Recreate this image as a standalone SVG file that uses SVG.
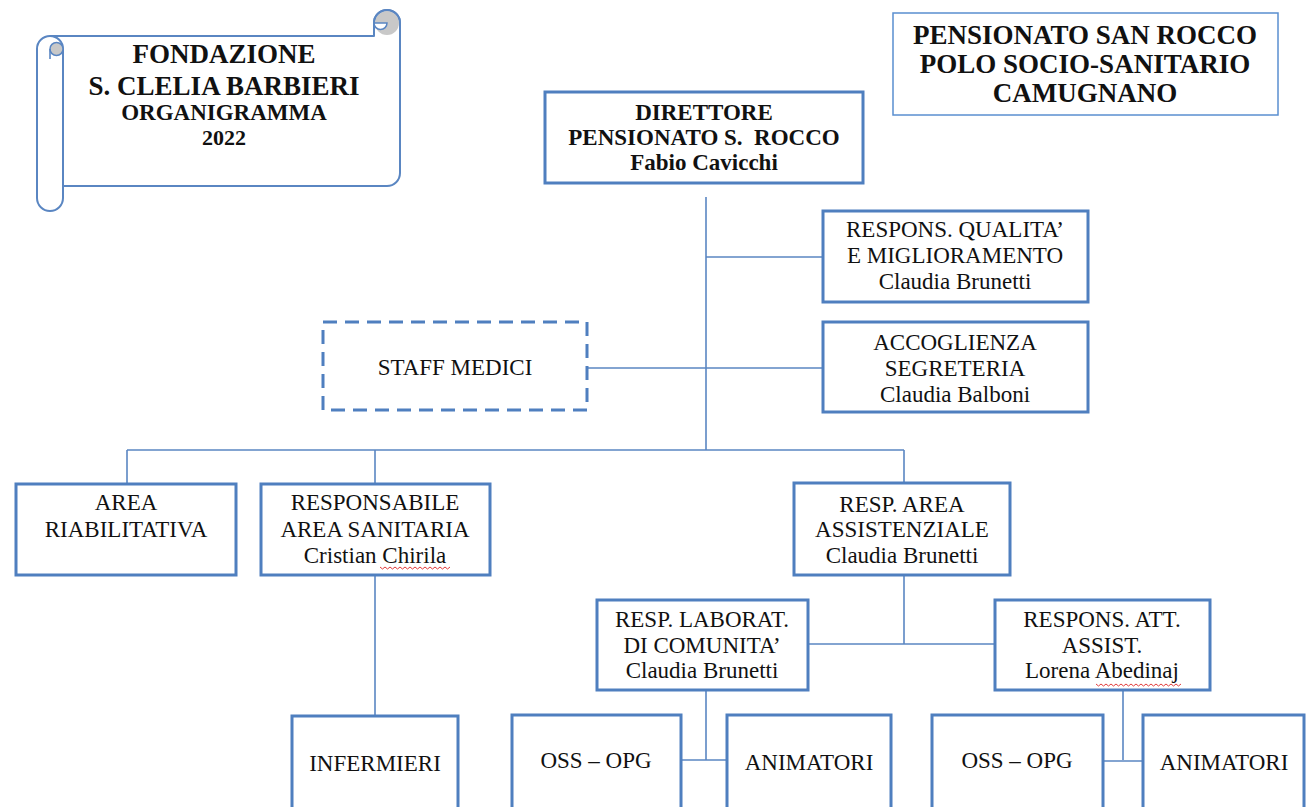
<svg xmlns="http://www.w3.org/2000/svg" width="1306" height="807" viewBox="0 0 1306 807">
<style>
.box{fill:#fff;stroke:#4f7fbf;stroke-width:3}
.dash{fill:#fff;stroke:#4f7fbf;stroke-width:3;stroke-dasharray:14 8}
.scroll{fill:#fff;stroke:#5a86c2;stroke-width:2;stroke-linejoin:round}
.sline{fill:none;stroke:#5a86c2;stroke-width:2;stroke-linejoin:round}
.ln{fill:none;stroke:#5a86c2;stroke-width:1.6}
.sq{fill:none;stroke:#e23b3b;stroke-width:1}
text{font-family:"Liberation Serif","Times New Roman",serif;fill:#111;text-anchor:middle}
.r{font-size:23px}
.b{font-size:23px;font-weight:bold}
.bt{font-size:27px;font-weight:bold}
</style>
<rect width="1306" height="807" fill="#fff"/>
<g id="connectors">
<line class="ln" x1="706" y1="197" x2="706" y2="450"/>
<line class="ln" x1="706" y1="257" x2="823" y2="257"/>
<line class="ln" x1="587" y1="368" x2="823" y2="368"/>
<line class="ln" x1="127" y1="450" x2="904" y2="450"/>
<line class="ln" x1="127" y1="450" x2="127" y2="484"/>
<line class="ln" x1="375" y1="450" x2="375" y2="484"/>
<line class="ln" x1="904" y1="450" x2="904" y2="483"/>
<line class="ln" x1="375" y1="575" x2="375" y2="716"/>
<line class="ln" x1="904" y1="575" x2="904" y2="644"/>
<line class="ln" x1="808" y1="644" x2="995" y2="644"/>
<line class="ln" x1="706" y1="690" x2="706" y2="760"/>
<line class="ln" x1="681" y1="760" x2="727" y2="760"/>
<line class="ln" x1="1123" y1="690" x2="1123" y2="760"/>
<line class="ln" x1="1103" y1="761" x2="1143" y2="761"/>
</g>
<g id="scroll-fondazione">
<path class="scroll" d="M50,36 L374,36 L374,23 A13,13 0 0 1 400,23 L400,173 A13,13 0 0 1 387,186 L63,186 L63,198 A13,13 0 0 1 37,198 L37,49 A13,13 0 0 1 50,36 Z"/>
<path class="sline" d="M50,36 A13,13 0 0 1 63,49 L63,198"/>
<circle cx="56.5" cy="49" r="6.5" fill="#c8c8c8" stroke="#5a86c2" stroke-width="1.5"/>
<line class="ln" x1="50" y1="49" x2="50" y2="59"/>
<circle cx="387" cy="23" r="12" fill="#c8c8c8"/>
<path d="M374,23 A6.5,6.5 0 0 0 387,23 Z" fill="#fff" stroke="#5a86c2" stroke-width="1.5"/>
<path class="sline" d="M374,36 L374,23 A13,13 0 0 1 400,23"/>
<text class="bt" x="224" y="63">FONDAZIONE</text>
<text class="bt" x="224" y="95">S. CLELIA BARBIERI</text>
<text x="224" y="120" style="font-size:23px;font-weight:bold">ORGANIGRAMMA</text>
<text x="224" y="145" style="font-size:22px;font-weight:bold">2022</text>
</g>
<g id="pensionato">
<rect x="893" y="13" width="385" height="102" fill="#fff" stroke="#5a8fd0" stroke-width="1.5"/>
<text class="bt" x="1085" y="44">PENSIONATO SAN ROCCO</text>
<text class="bt" x="1085" y="73">POLO SOCIO-SANITARIO</text>
<text class="bt" x="1085" y="102">CAMUGNANO</text>
</g>
<g id="direttore">
<rect class="box" x="545" y="92" width="318" height="91"/>
<text class="b" x="704" y="120">DIRETTORE</text>
<text class="b" x="704" y="145" xml:space="preserve" style="white-space:pre">PENSIONATO S.  ROCCO</text>
<text class="b" x="704" y="170">Fabio Cavicchi</text>
</g>
<g id="qualita">
<rect class="box" x="823" y="211" width="265" height="91"/>
<text class="r" x="955" y="237">RESPONS. QUALITA’</text>
<text class="r" x="955" y="263">E MIGLIORAMENTO</text>
<text class="r" x="955" y="289">Claudia Brunetti</text>
</g>
<g id="accoglienza">
<rect class="box" x="823" y="322" width="265" height="90"/>
<text class="r" x="955" y="350">ACCOGLIENZA</text>
<text class="r" x="955" y="376">SEGRETERIA</text>
<text class="r" x="955" y="402">Claudia Balboni</text>
</g>
<g id="staff-medici">
<rect class="dash" x="323" y="322" width="264" height="88"/>
<text class="r" x="455" y="375">STAFF MEDICI</text>
</g>
<g id="area-riabilitativa">
<rect class="box" x="16" y="484" width="220" height="91"/>
<text class="r" x="126" y="510">AREA</text>
<text class="r" x="126" y="537">RIABILITATIVA</text>
</g>
<g id="area-sanitaria">
<rect class="box" x="261" y="484" width="229" height="91"/>
<text class="r" x="375" y="510">RESPONSABILE</text>
<text class="r" x="375" y="537">AREA SANITARIA</text>
<text class="r" x="375" y="563">Cristian Chirila</text>
<path class="sq" d="M380,567 l2.5,2 l2.5,-2 l2.5,2 l2.5,-2 l2.5,2 l2.5,-2 l2.5,2 l2.5,-2 l2.5,2 l2.5,-2 l2.5,2 l2.5,-2 l2.5,2 l2.5,-2 l2.5,2 l2.5,-2 l2.5,2 l2.5,-2 l2.5,2 l2.5,-2 l2.5,2 l2.5,-2 l2.5,2 l2.5,-2 l2.5,2 l2.5,-2 l2.5,2 l2.5,-2"/>
</g>
<g id="area-assistenziale">
<rect class="box" x="794" y="483" width="216" height="92"/>
<text class="r" x="902" y="512">RESP. AREA</text>
<text class="r" x="902" y="537">ASSISTENZIALE</text>
<text class="r" x="902" y="563">Claudia Brunetti</text>
</g>
<g id="laboratorio">
<rect class="box" x="597" y="600" width="211" height="90"/>
<text class="r" x="702" y="627">RESP. LABORAT.</text>
<text class="r" x="702" y="653">DI COMUNITA’</text>
<text class="r" x="702" y="678">Claudia Brunetti</text>
</g>
<g id="att-assist">
<rect class="box" x="995" y="600" width="215" height="90"/>
<text class="r" x="1102" y="627">RESPONS. ATT.</text>
<text class="r" x="1102" y="653">ASSIST.</text>
<text class="r" x="1102" y="678">Lorena Abedinaj</text>
<path class="sq" d="M1096,684 l2.5,2 l2.5,-2 l2.5,2 l2.5,-2 l2.5,2 l2.5,-2 l2.5,2 l2.5,-2 l2.5,2 l2.5,-2 l2.5,2 l2.5,-2 l2.5,2 l2.5,-2 l2.5,2 l2.5,-2 l2.5,2 l2.5,-2 l2.5,2 l2.5,-2 l2.5,2 l2.5,-2 l2.5,2 l2.5,-2 l2.5,2 l2.5,-2 l2.5,2 l2.5,-2 l2.5,2 l2.5,-2 l2.5,2 l2.5,-2 l2.5,2 l2.5,-2"/>
</g>
<g id="infermieri">
<rect class="box" x="292" y="716" width="166" height="100"/>
<text class="r" x="375" y="771">INFERMIERI</text>
</g>
<g id="oss-opg-1">
<rect class="box" x="512" y="715" width="169" height="100"/>
<text class="r" x="596" y="768">OSS – OPG</text>
</g>
<g id="animatori-1">
<rect class="box" x="727" y="715" width="164" height="100"/>
<text class="r" x="809" y="770">ANIMATORI</text>
</g>
<g id="oss-opg-2">
<rect class="box" x="932" y="715" width="171" height="100"/>
<text class="r" x="1017" y="768">OSS – OPG</text>
</g>
<g id="animatori-2">
<rect class="box" x="1143" y="715" width="161" height="100"/>
<text class="r" x="1224" y="770">ANIMATORI</text>
</g>
</svg>
